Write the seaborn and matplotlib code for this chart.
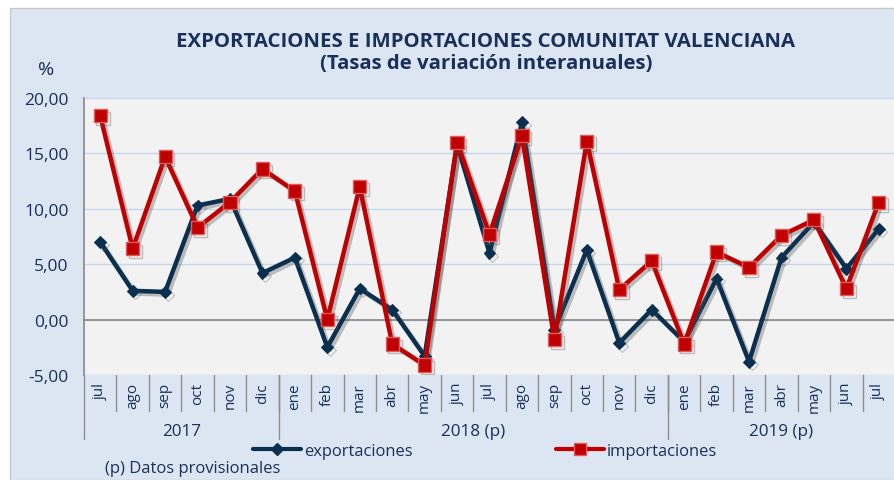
import matplotlib
matplotlib.use("Agg")
import matplotlib.pyplot as plt
import matplotlib.patheffects as pe
from matplotlib.patches import Rectangle
from matplotlib.lines import Line2D
import pandas as pd
import seaborn as sns

# data
meses = ["jul", "ago", "sep", "oct", "nov", "dic",
         "ene", "feb", "mar", "abr", "may", "jun", "jul", "ago", "sep", "oct", "nov", "dic",
         "ene", "feb", "mar", "abr", "may", "jun", "jul"]
anios = ["2017", "2018 (p)", "2019 (p)"]
meses_por_anio = [6, 12, 7]
exportaciones = [7.0, 2.6, 2.5, 10.3, 10.9, 4.2,
                 5.6, -2.5, 2.8, 0.9, -3.3, 15.8, 6.0, 17.8, -0.9, 6.3, -2.1, 0.9,
                 -2.0, 3.7, -3.8, 5.6, 8.8, 4.6, 8.2]
importaciones = [18.4, 6.4, 14.7, 8.3, 10.6, 13.6,
                 11.6, 0.0, 12.0, -2.2, -4.1, 16.0, 7.7, 16.6, -1.8, 16.1, 2.7, 5.3,
                 -2.2, 6.1, 4.7, 7.6, 9.0, 2.8, 10.6]

df = pd.DataFrame({"pos": range(len(meses)),
                   "exportaciones": exportaciones,
                   "importaciones": importaciones})

sns.set_theme(style="white")
plt.rcParams["font.family"] = ["Open Sans", "DejaVu Sans"]

navy = "#0b2f4e"
red = "#c00000"
txt = "#1a2f5a"

fig = plt.figure(figsize=(8.95, 4.81), dpi=100)
fig.patch.set_facecolor("white")
# light blue panel
fig.patches.append(Rectangle((10 / 895, 0), 1, 1 - 9 / 481, transform=fig.transFigure,
                             facecolor="#dce6f2", edgecolor="#c8c8c8", lw=1, zorder=-10))

ax = fig.add_axes([84 / 895, 1 - 376 / 481, 1 - 84 / 895, 277 / 481])
ax.set_facecolor("#f2f2f2")

shadow = [pe.SimpleLineShadow(offset=(2, -2), alpha=0.35, shadow_color="#555555"), pe.Normal()]

sns.lineplot(data=df, x="pos", y="exportaciones", ax=ax, color=navy, lw=3.2,
             marker="D", markersize=6, markeredgecolor=navy, path_effects=shadow, zorder=3)
sns.lineplot(data=df, x="pos", y="importaciones", ax=ax, color=red, lw=3.2,
             marker="s", markersize=9.5, markeredgecolor="#e05a5a", markeredgewidth=1,
             path_effects=shadow, zorder=4)

ax.set_xlim(-0.5, len(meses) - 0.5)
ax.set_ylim(-5, 20)
ax.set_yticks([-5, 0, 5, 10, 15, 20])
ax.set_yticklabels([f"{v:.2f}".replace(".", ",") for v in [-5, 0, 5, 10, 15, 20]],
                   color=txt, fontsize=12.5)
ax.yaxis.grid(True, color="#c5d5ea", lw=1)
ax.set_axisbelow(True)
ax.tick_params(axis="y", length=5, color="#888888", direction="out", pad=6)

# category axis at zero
ax.spines["bottom"].set_position(("data", 0))
ax.spines["bottom"].set_color("#8c8c8c")
ax.spines["left"].set_color("#8c8c8c")
ax.spines["top"].set_visible(False)
ax.spines["right"].set_visible(False)
ax.set_xticks([i + 0.5 for i in range(len(meses) - 1)])
ax.set_xticklabels([])
ax.tick_params(axis="x", length=4, color="#8c8c8c", direction="out")
ax.set_xlabel("")
ax.set_ylabel("")

tr = ax.get_xaxis_transform()
for i, m in enumerate(meses):
    ax.text(i, -0.025, m, rotation=90, ha="center", va="top", transform=tr,
            color=txt, fontsize=11, clip_on=False)
for i in range(1, len(meses)):
    ax.plot([i - 0.5, i - 0.5], [0, -0.13], transform=tr, color="#8c8c8c", lw=1, clip_on=False)

start = 0
bounds = [-0.5]
for anio, n in zip(anios, meses_por_anio):
    ax.text(start + (n - 1) / 2, -0.202, anio, ha="center", va="center", transform=tr,
            color=txt, fontsize=12.3, clip_on=False)
    start += n
    bounds.append(start - 0.5)
for b in bounds[:-1]:
    ax.plot([b, b], [0, -0.23], transform=tr, color="#8c8c8c", lw=1, clip_on=False)

# titles
fig.text(486 / 895, 1 - 42 / 481, "EXPORTACIONES E IMPORTACIONES COMUNITAT VALENCIANA",
         ha="center", va="center", fontsize=14.7, fontweight="bold", color=txt)
fig.text(486 / 895, 1 - 64 / 481, "(Tasas de variación interanuales)",
         ha="center", va="center", fontsize=14.7, fontweight="bold", color=txt)
fig.text(46 / 895, 1 - 70 / 481, "%", ha="center", va="center", fontsize=14, color=txt)

# legend
h1 = Line2D([], [], color=navy, lw=3, marker="D", markersize=6)
h2 = Line2D([], [], color=red, lw=3, marker="s", markersize=8, markeredgecolor="#e05a5a")
fig.legend(handles=[h1], labels=["exportaciones"], loc="center left",
           bbox_to_anchor=(238 / 895, 1 - 452 / 481), frameon=False, fontsize=11.9,
           handlelength=2.9, handletextpad=0.2, labelcolor=txt)
fig.legend(handles=[h2], labels=["importaciones"], loc="center left",
           bbox_to_anchor=(541 / 895, 1 - 452 / 481), frameon=False, fontsize=11.9,
           handlelength=2.9, handletextpad=0.2, labelcolor=txt)
fig.text(105 / 895, 1 - 469 / 481, "(p) Datos provisionales", ha="left", va="center",
         fontsize=12, color=txt)

plt.savefig("out.png", dpi=100)
